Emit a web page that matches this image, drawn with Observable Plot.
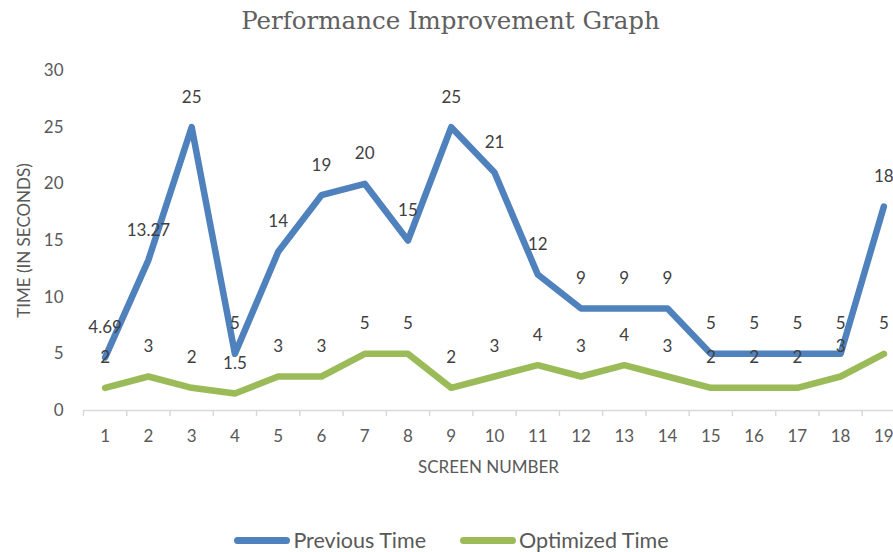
<!DOCTYPE html>
<html>
<head>
<meta charset="utf-8">
<script src="https://cdn.jsdelivr.net/npm/d3@7"></script>
<script src="https://cdn.jsdelivr.net/npm/@observablehq/plot@0.6"></script>
<style>
  html, body { margin: 0; padding: 0; background: #fff; }
  body { width: 893px; height: 552px; overflow: hidden; font-family: Lato, sans-serif; }
  #title { height: 45px; text-align: center; font-family: "DejaVu Serif", serif; font-size: 24.5px; color: #606060; line-height: 42px; padding-left: 8px; }
  #legend { display: flex; justify-content: center; align-items: center; gap: 34px; font-size: 21.5px; color: #595959; height: 50px; margin-left: 10px; }
  .item { display: flex; align-items: center; }
  .sw { width: 56px; height: 7px; border-radius: 4px; margin-right: 3px; }
</style>
</head>
<body>
<div id="title">Performance Improvement Graph</div>
<div id="chart"></div>
<div id="legend"></div>
<script>
const screens = [1, 2, 3, 4, 5, 6, 7, 8, 9, 10, 11, 12, 13, 14, 15, 16, 17, 18, 19];
const previousTime = [4.69, 13.27, 25, 5, 14, 19, 20, 15, 25, 21, 12, 9, 9, 9, 5, 5, 5, 5, 18];
const optimizedTime = [2, 3, 2, 1.5, 3, 3, 5, 5, 2, 3, 4, 3, 4, 3, 2, 2, 2, 3, 5];
const seriesNames = ["Previous Time", "Optimized Time"];
const seriesColors = ["#4F81BD", "#9BBB59"];
const yTicks = [0, 5, 10, 15, 20, 25, 30];
const categoryEdges = [0.5, 1.5, 2.5, 3.5, 4.5, 5.5, 6.5, 7.5, 8.5, 9.5, 10.5, 11.5, 12.5, 13.5, 14.5, 15.5, 16.5, 17.5, 18.5, 19.5];

const rows = [];
screens.forEach((s, i) => {
  rows.push({screen: s, value: previousTime[i], series: seriesNames[0]});
  rows.push({screen: s, value: optimizedTime[i], series: seriesNames[1]});
});

const chart = Plot.plot({
  width: 893,
  height: 470,
  marginTop: 25,
  marginBottom: 105,
  marginLeft: 83,
  marginRight: 0,
  style: {fontFamily: "Lato, sans-serif", fontSize: "17px", color: "#595959", background: "white"},
  x: {type: "linear", domain: [0.5, 19.5], range: [83, 905]},
  y: {domain: [0, 30], range: [365, 25]},
  color: {domain: seriesNames, range: seriesColors},
  marks: [
    Plot.ruleY([0], {stroke: "#d9d9d9", strokeWidth: 1.5}),
    Plot.axisX({ticks: categoryEdges, tickFormat: () => "", tickSize: 6, stroke: "#d9d9d9", strokeWidth: 1.5, label: null}),
    Plot.axisX({ticks: screens, tickFormat: d => String(d), tickSize: 0, tickPadding: 19, fill: "#595959", fontSize: 17,
      label: "SCREEN NUMBER", labelAnchor: "center", labelArrow: "none", labelOffset: 62}),
    Plot.axisY({ticks: yTicks, tickSize: 0, tickPadding: 20, fill: "#595959", fontSize: 17,
      label: "TIME (IN SECONDS)", labelAnchor: "center", labelArrow: "none", labelOffset: 66}),
    Plot.line(rows, {x: "screen", y: "value", stroke: "series", z: "series", strokeWidth: 6.5, strokeLinejoin: "round", strokeLinecap: "round"}),
    Plot.text(rows, {x: "screen", y: "value", text: d => String(d.value), dy: -30, fill: "#404040", fontSize: 17})
  ]
});
document.getElementById("chart").appendChild(chart);

const legend = document.getElementById("legend");
seriesNames.forEach((n, i) => {
  const it = document.createElement("div");
  it.className = "item";
  const sw = document.createElement("div");
  sw.className = "sw";
  sw.style.background = seriesColors[i];
  const tx = document.createElement("span");
  tx.textContent = n;
  it.appendChild(sw); it.appendChild(tx);
  legend.appendChild(it);
});
</script>
</body>
</html>
